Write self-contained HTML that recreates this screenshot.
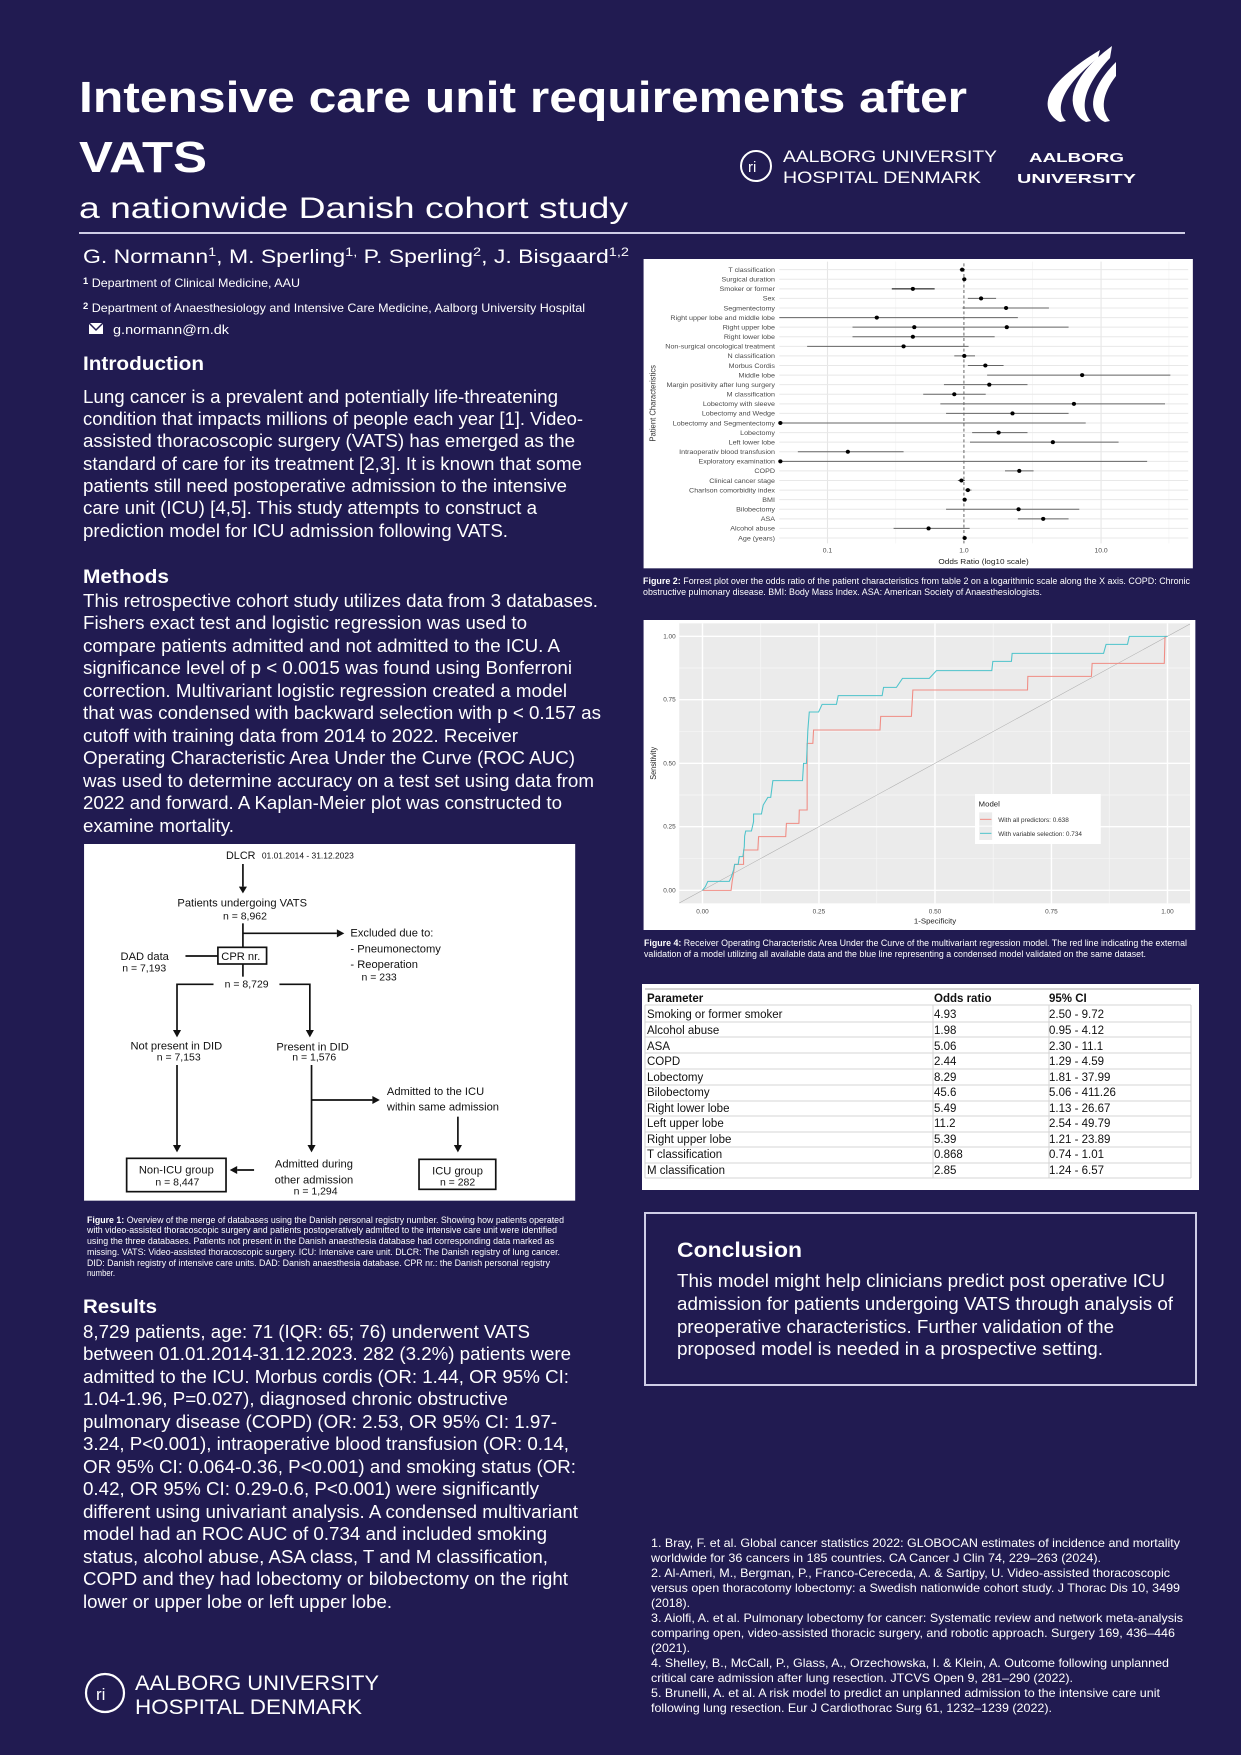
<!DOCTYPE html>
<html><head><meta charset="utf-8"><style>
html,body{margin:0;padding:0;background:#211b51;}
svg{display:block;}
text{font-family:"Liberation Sans",Arial,sans-serif;}
</style></head><body>
<svg width="1241" height="1755" viewBox="0 0 1241 1755" xmlns="http://www.w3.org/2000/svg">
<rect width="1241" height="1755" fill="#211b51"/>

<!-- Title -->
<g fill="#fff">
<text x="79" y="112" font-size="44" font-weight="bold" textLength="888" lengthAdjust="spacingAndGlyphs">Intensive care unit requirements after</text>
<text x="79" y="172" font-size="44" font-weight="bold" textLength="128" lengthAdjust="spacingAndGlyphs">VATS</text>
<text x="79" y="218" font-size="30" textLength="549" lengthAdjust="spacingAndGlyphs">a nationwide Danish cohort study</text>
</g>
<line x1="79" y1="233" x2="1185" y2="233" stroke="#cfcde6" stroke-width="2"/>

<!-- Authors -->
<g fill="#fff">
<text x="83" y="263" font-size="19" textLength="546" lengthAdjust="spacingAndGlyphs">G. Normann<tspan font-size="12" dy="-7">1</tspan><tspan dy="7">, M. Sperling</tspan><tspan font-size="12" dy="-7">1,</tspan><tspan dy="7"> P. Sperling</tspan><tspan font-size="12" dy="-7">2</tspan><tspan dy="7">, J. Bisgaard</tspan><tspan font-size="12" dy="-7">1,2</tspan></text>
<text x="83" y="287" font-size="12" textLength="217" lengthAdjust="spacingAndGlyphs"><tspan font-weight="bold" font-size="9" dy="-3">1</tspan><tspan dy="3"> Department of Clinical Medicine, AAU</tspan></text>
<text x="83" y="312" font-size="12" textLength="502" lengthAdjust="spacingAndGlyphs"><tspan font-weight="bold" font-size="9" dy="-3">2</tspan><tspan dy="3"> Department of Anaesthesiology and Intensive Care Medicine, Aalborg University Hospital</tspan></text>
<rect x="89" y="323" width="14" height="11" fill="#fff"/>
<polyline points="89,323 96,330 103,323" fill="none" stroke="#211b51" stroke-width="1.5"/>
<text x="113" y="334" font-size="13" textLength="116" lengthAdjust="spacingAndGlyphs">g.normann@rn.dk</text>
</g>

<!-- Logos top -->
<g fill="#fff">
<path d="M1112 46 C1090 62,1070 84,1073 104 C1075 114,1080 119,1086 122 L1091 121 C1080 110,1082 88,1110 58 Z"/>
<path d="M1116 62 C1100 78,1090 96,1094 110 C1096 116,1100 120,1105 122 L1110 121 C1100 110,1102 94,1116 76 Z"/>
<path d="M1100 50 C1075 65,1050 85,1048 100 C1046 110,1052 118,1060 122 L1066 121 C1055 110,1060 88,1098 58 Z"/>
</g>
<circle cx="756" cy="166" r="15" fill="none" stroke="#fff" stroke-width="2"/>
<text x="748" y="172" font-size="15" fill="#fff">ri</text>
<g fill="#fff">
<text x="783" y="162" font-size="17" textLength="214" lengthAdjust="spacingAndGlyphs">AALBORG UNIVERSITY</text>
<text x="783" y="183" font-size="17" textLength="198" lengthAdjust="spacingAndGlyphs">HOSPITAL DENMARK</text>
<text x="1029" y="162" font-size="13" font-weight="bold" textLength="95" lengthAdjust="spacingAndGlyphs">AALBORG</text>
<text x="1017" y="183" font-size="13" font-weight="bold" textLength="119" lengthAdjust="spacingAndGlyphs">UNIVERSITY</text>
</g>

<!-- Introduction -->
<g fill="#fff" font-size="18.6">
<text x="83" y="370" font-size="19" font-weight="bold" textLength="121" lengthAdjust="spacingAndGlyphs">Introduction</text>
<text x="83" y="403" textLength="475" lengthAdjust="spacingAndGlyphs">Lung cancer is a prevalent and potentially life-threatening</text>
<text x="83" y="425" textLength="500" lengthAdjust="spacingAndGlyphs">condition that impacts millions of people each year [1]. Video-</text>
<text x="83" y="447" textLength="492" lengthAdjust="spacingAndGlyphs">assisted thoracoscopic surgery (VATS) has emerged as the</text>
<text x="83" y="470" textLength="499" lengthAdjust="spacingAndGlyphs">standard of care for its treatment [2,3]. It is known that some</text>
<text x="83" y="492" textLength="484" lengthAdjust="spacingAndGlyphs">patients still need postoperative admission to the intensive</text>
<text x="83" y="514" textLength="454" lengthAdjust="spacingAndGlyphs">care unit (ICU) [4,5]. This study attempts to construct a</text>
<text x="83" y="537" textLength="425" lengthAdjust="spacingAndGlyphs">prediction model for ICU admission following VATS.</text>

<text x="83" y="583" font-size="19" font-weight="bold" textLength="86" lengthAdjust="spacingAndGlyphs">Methods</text>
<text x="83" y="607" textLength="515" lengthAdjust="spacingAndGlyphs">This retrospective cohort study utilizes data from 3 databases.</text>
<text x="83" y="629" textLength="444" lengthAdjust="spacingAndGlyphs">Fishers exact test and logistic regression was used to</text>
<text x="83" y="652" textLength="477" lengthAdjust="spacingAndGlyphs">compare patients admitted and not admitted to the ICU. A</text>
<text x="83" y="674" textLength="489" lengthAdjust="spacingAndGlyphs">significance level of p &lt; 0.0015 was found using Bonferroni</text>
<text x="83" y="697" textLength="484" lengthAdjust="spacingAndGlyphs">correction. Multivariant logistic regression created a model</text>
<text x="83" y="719" textLength="518" lengthAdjust="spacingAndGlyphs">that was condensed with backward selection with p &lt; 0.157 as</text>
<text x="83" y="742" textLength="435" lengthAdjust="spacingAndGlyphs">cutoff with training data from 2014 to 2022. Receiver</text>
<text x="83" y="764" textLength="492" lengthAdjust="spacingAndGlyphs">Operating Characteristic Area Under the Curve (ROC AUC)</text>
<text x="83" y="787" textLength="511" lengthAdjust="spacingAndGlyphs">was used to determine accuracy on a test set using data from</text>
<text x="83" y="809" textLength="479" lengthAdjust="spacingAndGlyphs">2022 and forward. A Kaplan-Meier plot was constructed to</text>
<text x="83" y="832" textLength="151" lengthAdjust="spacingAndGlyphs">examine mortality.</text>

<text x="83" y="1313" font-size="19" font-weight="bold" textLength="74" lengthAdjust="spacingAndGlyphs">Results</text>
<text x="83" y="1338" textLength="447" lengthAdjust="spacingAndGlyphs">8,729 patients, age: 71 (IQR: 65; 76) underwent VATS</text>
<text x="83" y="1360" textLength="488" lengthAdjust="spacingAndGlyphs">between 01.01.2014-31.12.2023. 282 (3.2%) patients were</text>
<text x="83" y="1383" textLength="486" lengthAdjust="spacingAndGlyphs">admitted to the ICU. Morbus cordis (OR: 1.44, OR 95% CI:</text>
<text x="83" y="1405" textLength="425" lengthAdjust="spacingAndGlyphs">1.04-1.96, P=0.027), diagnosed chronic obstructive</text>
<text x="83" y="1428" textLength="474" lengthAdjust="spacingAndGlyphs">pulmonary disease (COPD) (OR: 2.53, OR 95% CI: 1.97-</text>
<text x="83" y="1450" textLength="486" lengthAdjust="spacingAndGlyphs">3.24, P&lt;0.001), intraoperative blood transfusion (OR: 0.14,</text>
<text x="83" y="1473" textLength="493" lengthAdjust="spacingAndGlyphs">OR 95% CI: 0.064-0.36, P&lt;0.001) and smoking status (OR:</text>
<text x="83" y="1495" textLength="456" lengthAdjust="spacingAndGlyphs">0.42, OR 95% CI: 0.29-0.6, P&lt;0.001) were significantly</text>
<text x="83" y="1518" textLength="495" lengthAdjust="spacingAndGlyphs">different using univariant analysis. A condensed multivariant</text>
<text x="83" y="1540" textLength="464" lengthAdjust="spacingAndGlyphs">model had an ROC AUC of 0.734 and included smoking</text>
<text x="83" y="1563" textLength="465" lengthAdjust="spacingAndGlyphs">status, alcohol abuse, ASA class, T and M classification,</text>
<text x="83" y="1585" textLength="485" lengthAdjust="spacingAndGlyphs">COPD and they had lobectomy or bilobectomy on the right</text>
<text x="83" y="1608" textLength="309" lengthAdjust="spacingAndGlyphs">lower or upper lobe or left upper lobe.</text>
</g>

<!-- bottom logo -->
<circle cx="105" cy="1693" r="19" fill="none" stroke="#fff" stroke-width="2.2"/>
<text x="96" y="1700" font-size="17" fill="#fff">ri</text>
<text x="135" y="1690" font-size="21" fill="#fff" textLength="244" lengthAdjust="spacingAndGlyphs">AALBORG UNIVERSITY</text>
<text x="135" y="1714" font-size="21" fill="#fff" textLength="227" lengthAdjust="spacingAndGlyphs">HOSPITAL DENMARK</text>

<!-- Flowchart -->
<svg x="80" y="840" width="530" height="440" viewBox="0 0 1568 1320" preserveAspectRatio="none">
<rect x="12" y="12" width="1453" height="1070" fill="#fff"/>
<g font-family="DejaVu Sans, sans-serif" fill="#111">
<text x="432" y="57" font-size="32">DLCR</text>
<text x="538" y="55" font-size="25">01.01.2014 - 31.12.2023</text>
<text x="480" y="200" font-size="33" text-anchor="middle">Patients undergoing VATS</text>
<text x="488" y="238" font-size="31" text-anchor="middle">n = 8,962</text>
<text x="800" y="290" font-size="33">Excluded due to:</text>
<text x="800" y="338" font-size="33">- Pneumonectomy</text>
<text x="800" y="384" font-size="33">- Reoperation</text>
<text x="833" y="422" font-size="31">n = 233</text>
<text x="418" y="360" font-size="33">CPR nr.</text>
<text x="120" y="360" font-size="33">DAD data</text>
<text x="125" y="395" font-size="31">n = 7,193</text>
<text x="493" y="443" font-size="31" text-anchor="middle">n = 8,729</text>
<text x="285" y="628" font-size="33" text-anchor="middle">Not present in DID</text>
<text x="292" y="662" font-size="31" text-anchor="middle">n = 7,153</text>
<text x="688" y="632" font-size="33" text-anchor="middle">Present in DID</text>
<text x="693" y="662" font-size="31" text-anchor="middle">n = 1,576</text>
<text x="908" y="765" font-size="33">Admitted to the ICU</text>
<text x="908" y="812" font-size="33">within same admission</text>
<text x="285" y="1000" font-size="33" text-anchor="middle">Non-ICU group</text>
<text x="288" y="1037" font-size="31" text-anchor="middle">n = 8,447</text>
<text x="692" y="983" font-size="33" text-anchor="middle">Admitted during</text>
<text x="692" y="1030" font-size="33" text-anchor="middle">other admission</text>
<text x="697" y="1063" font-size="31" text-anchor="middle">n = 1,294</text>
<text x="1117" y="1003" font-size="33" text-anchor="middle">ICU group</text>
<text x="1117" y="1037" font-size="31" text-anchor="middle">n = 282</text>
</g>
<g stroke="#111" stroke-width="5" fill="none">
<line x1="482" y1="72" x2="482" y2="140"/>
<line x1="482" y1="250" x2="482" y2="322"/>
<line x1="482" y1="280" x2="760" y2="280"/>
<rect x="408" y="322" width="144" height="50"/>
<line x1="312" y1="348" x2="408" y2="348"/>
<line x1="482" y1="372" x2="482" y2="410"/>
<polyline points="395,433 287,433 287,570"/>
<polyline points="590,433 680,433 680,570"/>
<line x1="287" y1="675" x2="287" y2="915"/>
<line x1="685" y1="675" x2="685" y2="915"/>
<line x1="685" y1="780" x2="865" y2="780"/>
<line x1="1118" y1="830" x2="1118" y2="915"/>
<rect x="138" y="955" width="294" height="100"/>
<line x1="515" y1="990" x2="465" y2="990"/>
<rect x="1003" y="958" width="227" height="90"/>
</g>
<g fill="#111">
<polygon points="470,140 494,140 482,160"/>
<polygon points="760,268 760,292 782,280"/>
<polygon points="275,570 299,570 287,592"/>
<polygon points="668,570 692,570 680,592"/>
<polygon points="275,915 299,915 287,937"/>
<polygon points="673,915 697,915 685,937"/>
<polygon points="865,768 865,792 887,780"/>
<polygon points="1106,915 1130,915 1118,937"/>
<polygon points="465,978 465,1002 443,990"/>
</g>
</svg>
<g fill="#fff" font-size="9">
<text x="87" y="1223" textLength="477" lengthAdjust="spacingAndGlyphs"><tspan font-weight="bold">Figure 1:</tspan> Overview of the merge of databases using the Danish personal registry number. Showing how patients operated</text>
<text x="87" y="1233" textLength="470" lengthAdjust="spacingAndGlyphs">with video-assisted thoracoscopic surgery and patients postoperatively admitted to the intensive care unit were identified</text>
<text x="87" y="1244" textLength="467" lengthAdjust="spacingAndGlyphs">using the three databases. Patients not present in the Danish anaesthesia database had corresponding data marked as</text>
<text x="87" y="1255" textLength="473" lengthAdjust="spacingAndGlyphs">missing. VATS: Video-assisted thoracoscopic surgery. ICU: Intensive care unit. DLCR: The Danish registry of lung cancer.</text>
<text x="87" y="1266" textLength="463" lengthAdjust="spacingAndGlyphs">DID: Danish registry of intensive care units. DAD: Danish anaesthesia database. CPR nr.: the Danish personal registry</text>
<text x="87" y="1276" textLength="28" lengthAdjust="spacingAndGlyphs">number.</text>
</g>

<!-- Forest plot -->
<svg x="640" y="255" width="560" height="320" viewBox="0 0 1568 960" preserveAspectRatio="none">
<rect x="10" y="12" width="1538" height="928" fill="#fff"/>
<g stroke="#f3f3f3" stroke-width="2">
<line x1="716" y1="20" x2="716" y2="865"/><line x1="1099" y1="20" x2="1099" y2="865"/><line x1="1481" y1="20" x2="1481" y2="865"/>
</g>
<g stroke="#e6e6e6" stroke-width="3">
<line x1="525" y1="20" x2="525" y2="865"/><line x1="1291" y1="20" x2="1291" y2="865"/>
</g>
<g id="hg" stroke="#e8e8e8" stroke-width="3"></g>
<line x1="907" y1="25" x2="907" y2="865" stroke="#555" stroke-width="2.5" stroke-dasharray="9,7"/>
<g id="fp"></g>
<g fill="#4a4a4a" font-size="19" text-anchor="middle">
<text x="525" y="893">0.1</text><text x="907" y="893">1.0</text><text x="1291" y="893">10.0</text>
</g>
<text x="962" y="927" font-size="23" fill="#222" text-anchor="middle">Odds Ratio (log10 scale)</text>
<text transform="translate(44,445) rotate(-90)" font-size="23" fill="#333" text-anchor="middle">Patient Characteristics</text>
</svg>
<g fill="#fff" font-size="8.8">
<text x="643" y="584" textLength="547" lengthAdjust="spacingAndGlyphs"><tspan font-weight="bold">Figure 2:</tspan> Forrest plot over the odds ratio of the patient characteristics from table 2 on a logarithmic scale along the X axis. COPD: Chronic</text>
<text x="643" y="595" textLength="399" lengthAdjust="spacingAndGlyphs">obstructive pulmonary disease. BMI: Body Mass Index. ASA: American Society of Anaesthesiologists.</text>
</g>

<!-- ROC -->
<svg x="640" y="620" width="560" height="340" viewBox="0 0 1568 1020" preserveAspectRatio="none">
<rect x="10" y="0" width="1545" height="930" fill="#fff"/>
<rect x="110" y="10" width="1430" height="840" fill="#ebebeb"/>
<g stroke="#f7f7f7" stroke-width="2">
<line x1="338" y1="10" x2="338" y2="850"/><line x1="663" y1="10" x2="663" y2="850"/><line x1="989" y1="10" x2="989" y2="850"/><line x1="1314" y1="10" x2="1314" y2="850"/>
<line x1="110" y1="716" x2="1540" y2="716"/><line x1="110" y1="525" x2="1540" y2="525"/><line x1="110" y1="335" x2="1540" y2="335"/><line x1="110" y1="144" x2="1540" y2="144"/>
</g>
<g stroke="#fff" stroke-width="4">
<line x1="175" y1="10" x2="175" y2="850"/><line x1="501" y1="10" x2="501" y2="850"/><line x1="826" y1="10" x2="826" y2="850"/><line x1="1152" y1="10" x2="1152" y2="850"/><line x1="1477" y1="10" x2="1477" y2="850"/>
<line x1="110" y1="811" x2="1540" y2="811"/><line x1="110" y1="620" x2="1540" y2="620"/><line x1="110" y1="430" x2="1540" y2="430"/><line x1="110" y1="239" x2="1540" y2="239"/><line x1="110" y1="49" x2="1540" y2="49"/>
</g>
<line x1="110" y1="849" x2="1540" y2="12" stroke="#aaa" stroke-width="1.5"/>
<polyline fill="none" stroke="#f08c84" stroke-width="3" points="175,811 255,811 258,785 262,760 265,733 290,733 290,690 330,690 332,650 408,650 410,610 445,610 446,570 468,570 468,370 484,370 486,330 672,330 674,289 760,289 764,210 1085,210 1086,169 1264,169 1266,130 1468,130 1470,49 1477,49"/>
<polyline fill="none" stroke="#4ec4cb" stroke-width="3" points="175,811 183,800 190,784 250,784 256,770 262,750 265,733 275,733 278,710 288,710 292,680 293,648 296,633 312,633 318,605 318,582 340,582 345,555 358,532 366,532 372,482 455,482 458,430 466,430 470,330 474,276 500,276 510,253 550,253 555,227 678,227 682,202 718,202 735,175 810,175 830,152 985,152 988,124 1040,124 1042,100 1298,100 1305,73 1365,73 1370,49 1477,49"/>
<g fill="#4a4a4a" font-size="18">
<g text-anchor="end"><text x="100" y="817">0.00</text><text x="100" y="626">0.25</text><text x="100" y="436">0.50</text><text x="100" y="245">0.75</text><text x="100" y="55">1.00</text></g>
<g text-anchor="middle"><text x="175" y="880">0.00</text><text x="501" y="880">0.25</text><text x="826" y="880">0.50</text><text x="1152" y="880">0.75</text><text x="1477" y="880">1.00</text></g>
</g>
<text x="826" y="911" font-size="22" fill="#222" text-anchor="middle">1-Specificity</text>
<text transform="translate(45,430) rotate(-90)" font-size="22" fill="#222" text-anchor="middle">Sensitivity</text>
<rect x="938" y="522" width="352" height="150" fill="#fff"/>
<text x="948" y="560" font-size="22" fill="#222">Model</text>
<rect x="950" y="577" width="36" height="40" fill="#ebebeb"/>
<rect x="950" y="620" width="36" height="40" fill="#ebebeb"/>
<line x1="952" y1="598" x2="984" y2="598" stroke="#f08c84" stroke-width="3"/>
<line x1="952" y1="640" x2="984" y2="640" stroke="#4ec4cb" stroke-width="3"/>
<text x="1003" y="606" font-size="18" fill="#333">With all predictors: 0.638</text>
<text x="1003" y="648" font-size="18" fill="#333">With variable selection: 0.734</text>
</svg>
<g fill="#fff" font-size="8.8">
<text x="644" y="946" textLength="543" lengthAdjust="spacingAndGlyphs"><tspan font-weight="bold">Figure 4:</tspan> Receiver Operating Characteristic Area Under the Curve of the multivariant regression model. The red line indicating the external</text>
<text x="644" y="957" textLength="502" lengthAdjust="spacingAndGlyphs">validation of a model utilizing all available data and the blue line representing a condensed model validated on the same dataset.</text>
</g>

<!-- Table -->
<rect x="642" y="984" width="557" height="206" fill="#fff"/>
<g stroke="#d4d4d4" stroke-width="1">
<line x1="645" y1="989" x2="1191" y2="989" stroke-width="2"/>
<line x1="645" y1="1005" x2="1191" y2="1005"/><line x1="645" y1="1022" x2="1191" y2="1022"/><line x1="645" y1="1037" x2="1191" y2="1037"/><line x1="645" y1="1053" x2="1191" y2="1053"/><line x1="645" y1="1069" x2="1191" y2="1069"/><line x1="645" y1="1085" x2="1191" y2="1085"/><line x1="645" y1="1101" x2="1191" y2="1101"/><line x1="645" y1="1116" x2="1191" y2="1116"/><line x1="645" y1="1132" x2="1191" y2="1132"/><line x1="645" y1="1147" x2="1191" y2="1147"/><line x1="645" y1="1163" x2="1191" y2="1163"/><line x1="645" y1="1178" x2="1191" y2="1178"/>
<line x1="645" y1="1005" x2="645" y2="1178"/><line x1="933" y1="1005" x2="933" y2="1178"/><line x1="1049" y1="1005" x2="1049" y2="1178"/><line x1="1191" y1="1005" x2="1191" y2="1178"/>
</g>
<g fill="#111" font-size="11.5">
<text x="647" y="1002" font-weight="bold">Parameter</text><text x="934" y="1002" font-weight="bold">Odds ratio</text><text x="1049" y="1002" font-weight="bold">95% CI</text>
<text x="647" y="1018">Smoking or former smoker</text><text x="934" y="1018">4.93</text><text x="1049" y="1018">2.50 - 9.72</text>
<text x="647" y="1034">Alcohol abuse</text><text x="934" y="1034">1.98</text><text x="1049" y="1034">0.95 - 4.12</text>
<text x="647" y="1050">ASA</text><text x="934" y="1050">5.06</text><text x="1049" y="1050">2.30 - 11.1</text>
<text x="647" y="1065">COPD</text><text x="934" y="1065">2.44</text><text x="1049" y="1065">1.29 - 4.59</text>
<text x="647" y="1081">Lobectomy</text><text x="934" y="1081">8.29</text><text x="1049" y="1081">1.81 - 37.99</text>
<text x="647" y="1096">Bilobectomy</text><text x="934" y="1096">45.6</text><text x="1049" y="1096">5.06 - 411.26</text>
<text x="647" y="1112">Right lower lobe</text><text x="934" y="1112">5.49</text><text x="1049" y="1112">1.13 - 26.67</text>
<text x="647" y="1127">Left upper lobe</text><text x="934" y="1127">11.2</text><text x="1049" y="1127">2.54 - 49.79</text>
<text x="647" y="1143">Right upper lobe</text><text x="934" y="1143">5.39</text><text x="1049" y="1143">1.21 - 23.89</text>
<text x="647" y="1158">T classification</text><text x="934" y="1158">0.868</text><text x="1049" y="1158">0.74 - 1.01</text>
<text x="647" y="1174">M classification</text><text x="934" y="1174">2.85</text><text x="1049" y="1174">1.24 - 6.57</text>
</g>

<!-- Conclusion -->
<rect x="645" y="1213" width="551" height="172" fill="none" stroke="#cfcde6" stroke-width="2"/>
<g fill="#fff">
<text x="677" y="1257" font-size="21" font-weight="bold" textLength="125" lengthAdjust="spacingAndGlyphs">Conclusion</text>
<text x="677" y="1287" font-size="18.6" textLength="488" lengthAdjust="spacingAndGlyphs">This model might help clinicians predict post operative ICU</text>
<text x="677" y="1310" font-size="18.6" textLength="496" lengthAdjust="spacingAndGlyphs">admission for patients undergoing VATS through analysis of</text>
<text x="677" y="1333" font-size="18.6" textLength="437" lengthAdjust="spacingAndGlyphs">preoperative characteristics. Further validation of the</text>
<text x="677" y="1355" font-size="18.6" textLength="426" lengthAdjust="spacingAndGlyphs">proposed model is needed in a prospective setting.</text>
</g>

<!-- References -->
<g fill="#fff" font-size="11.6">
<text x="651" y="1547" textLength="529" lengthAdjust="spacingAndGlyphs">1. Bray, F. et al. Global cancer statistics 2022: GLOBOCAN estimates of incidence and mortality</text>
<text x="651" y="1562" textLength="450" lengthAdjust="spacingAndGlyphs">worldwide for 36 cancers in 185 countries. CA Cancer J Clin 74, 229–263 (2024).</text>
<text x="651" y="1577" textLength="519" lengthAdjust="spacingAndGlyphs">2. Al-Ameri, M., Bergman, P., Franco-Cereceda, A. &amp; Sartipy, U. Video-assisted thoracoscopic</text>
<text x="651" y="1592" textLength="529" lengthAdjust="spacingAndGlyphs">versus open thoracotomy lobectomy: a Swedish nationwide cohort study. J Thorac Dis 10, 3499</text>
<text x="651" y="1607" textLength="39" lengthAdjust="spacingAndGlyphs">(2018).</text>
<text x="651" y="1622" textLength="532" lengthAdjust="spacingAndGlyphs">3. Aiolfi, A. et al. Pulmonary lobectomy for cancer: Systematic review and network meta-analysis</text>
<text x="651" y="1637" textLength="524" lengthAdjust="spacingAndGlyphs">comparing open, video-assisted thoracic surgery, and robotic approach. Surgery 169, 436–446</text>
<text x="651" y="1652" textLength="39" lengthAdjust="spacingAndGlyphs">(2021).</text>
<text x="651" y="1667" textLength="518" lengthAdjust="spacingAndGlyphs">4. Shelley, B., McCall, P., Glass, A., Orzechowska, I. &amp; Klein, A. Outcome following unplanned</text>
<text x="651" y="1682" textLength="422" lengthAdjust="spacingAndGlyphs">critical care admission after lung resection. JTCVS Open 9, 281–290 (2022).</text>
<text x="651" y="1697" textLength="509" lengthAdjust="spacingAndGlyphs">5. Brunelli, A. et al. A risk model to predict an unplanned admission to the intensive care unit</text>
<text x="651" y="1712" textLength="401" lengthAdjust="spacingAndGlyphs">following lung resection. Eur J Cardiothorac Surg 61, 1232–1239 (2022).</text>
</g>
</svg>
<script>
(function(){
var rows=[["T classification",902,895,910],["Surgical duration",908,905,911],["Smoker or former",764,705,825,1],["Sex",955,918,997],["Segmentectomy",1025,903,1145],["Right upper lobe and middle lobe",663,390,1058],["Right upper lobe",768,595,1200,0,1027],["Right lower lobe",764,595,993],["Non-surgical oncological treatment",738,468,920],["N classification",908,880,938],["Morbus Cordis",967,918,1018],["Middle lobe",1238,972,1485],["Margin positivity after lung surgery",978,851,1085],["M classification",880,793,968],["Lobectomy with sleeve",1215,841,1470],["Lobectomy and Wedge",1043,857,1200],["Lobectomy and Segmentectomy",393,393,1248],["Lobectomy",1004,930,1085],["Left lower lobe",1156,924,1340],["Intraoperativ blood transfusion",582,442,738],["Exploratory examination",393,393,1420],["COPD",1062,1022,1102],["Clinical cancer stage",900,890,910],["Charlson comorbidity index",918,910,928],["BMI",909,905,913],["Bilobectomy",1060,857,1230],["ASA",1129,1058,1200],["Alcohol abuse",808,710,923],["Age (years)",909,905,913]];
var NS="http://www.w3.org/2000/svg",hg=document.getElementById("hg"),fp=document.getElementById("fp");
function el(t,a,p){var e=document.createElementNS(NS,t);for(var k in a)e.setAttribute(k,a[k]);p.appendChild(e);return e;}
rows.forEach(function(r,i){var y=44+i*28.75;
el("line",{x1:390,y1:y,x2:1535,y2:y},hg);
var t=el("text",{x:378,y:y+7,"font-size":20,fill:"#4a4a4a","text-anchor":"end"},fp);t.textContent=r[0];
el("line",{x1:r[2],y1:y,x2:r[3],y2:y,stroke:r[4]?"#000":"#666","stroke-width":3},fp);
el("circle",{cx:r[1],cy:y,r:6,fill:"#000"},fp);
if(r[5])el("circle",{cx:r[5],cy:y,r:6,fill:"#000"},fp);});
})();
</script>
</body></html>
